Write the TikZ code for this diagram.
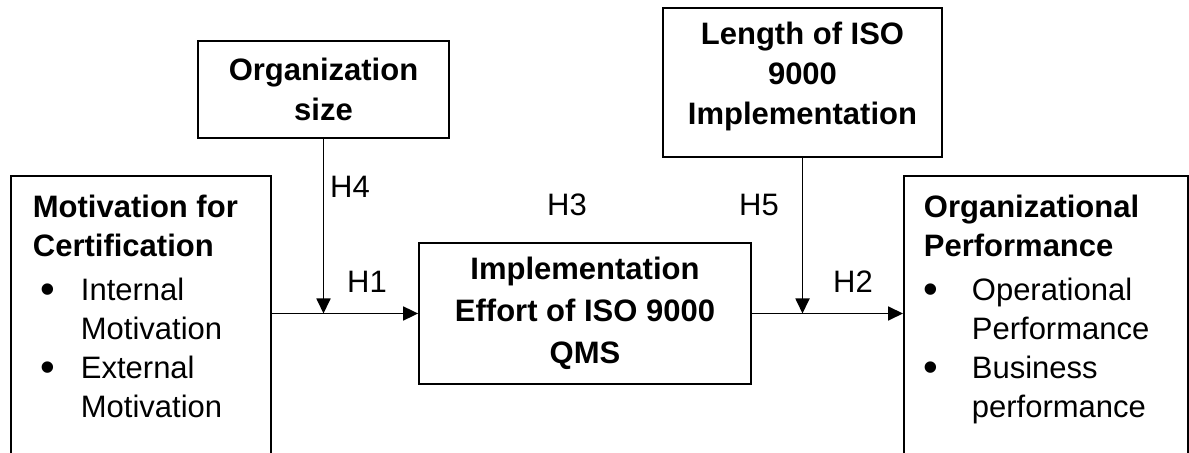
\documentclass[tikz,border=0pt]{standalone}
\usepackage{fontspec}
\setmainfont{Liberation Sans}
\usetikzlibrary{arrows.meta}

\begin{document}
\begin{tikzpicture}
        [x=0.5pt,y=-0.5pt,
         box/.style={draw,line width=0.9pt,align=center,font=\fontsize{15.5}{20}\selectfont\bfseries},
         bigbox/.style={draw,line width=0.9pt,anchor=north west,inner ysep=9.5pt,font=\fontsize{15.5}{19.5}\selectfont},
         hyp/.style={font=\fontsize{15.5}{19.5}\selectfont},
         conn/.style={line width=0.9pt,-{Triangle[length=7.5pt,width=7pt]}}]
        \useasboundingbox (0,0) rectangle (1189,453);

        % Motivation
        \node[bigbox,inner xsep=11pt] (motiv) at (10,175)
            {\parbox[t][150pt][t]{108pt}{\bfseries Motivation for\\Certification\\[2.5pt]
             \mdseries\hspace*{3.6pt}\makebox[20.4pt][l]{\raisebox{-1.4pt}{\fontsize{21}{21}\selectfont\textbullet}}Internal\\
             \hspace*{24pt}Motivation\\
             \hspace*{3.6pt}\makebox[20.4pt][l]{\raisebox{-1.4pt}{\fontsize{21}{21}\selectfont\textbullet}}External\\
             \hspace*{24pt}Motivation}};

        % Performance
        \node[bigbox,inner xsep=10pt] (perf) at (903,175)
            {\parbox[t][150pt][t]{122pt}{\bfseries Organizational\\Performance\\[2.5pt]
             \mdseries\hspace*{0pt}\makebox[24pt][l]{\raisebox{-1.4pt}{\fontsize{21}{21}\selectfont\textbullet}}Operational\\
             \hspace*{24pt}Performance\\
             \hspace*{0pt}\makebox[24pt][l]{\raisebox{-1.4pt}{\fontsize{21}{21}\selectfont\textbullet}}Business\\
             \hspace*{24pt}performance}};

        % moderators and mediator
        \node[box,minimum width=125.5pt,minimum height=48.5pt]                  (osize)  at (323.5,89.5) {Organization\\size};
        \node[box,minimum width=139.5pt,minimum height=74.5pt,text depth=9.5pt] (len)    at (802.5,82.5) {Length of ISO\\9000\\Implementation};
        \node[box,minimum width=166pt,minimum height=70.5pt,
              font=\fontsize{15.5}{21}\selectfont\bfseries]                     (effort) at (585,313.5)  {Implementation\\Effort of ISO 9000\\QMS};

        % hypotheses
        \node[hyp] (h4) at (350,187) {H4};
        \node[hyp] (h3) at (567,205) {H3};
        \node[hyp] (h1) at (367,282) {H1};
        \node[hyp] (h5) at (759,205) {H5};
        \node[hyp] (h2) at (853,282) {H2};

        \draw[conn] (motiv.east |- effort.west) -- (effort.west);
        \draw[conn] (effort.east) -- (perf.west |- effort.east);
        \draw[conn] (osize.south) -- (osize.south |- effort.west);
        \draw[conn] (len.south)   -- (len.south |- effort.east);
    \end{tikzpicture}
\end{document}
